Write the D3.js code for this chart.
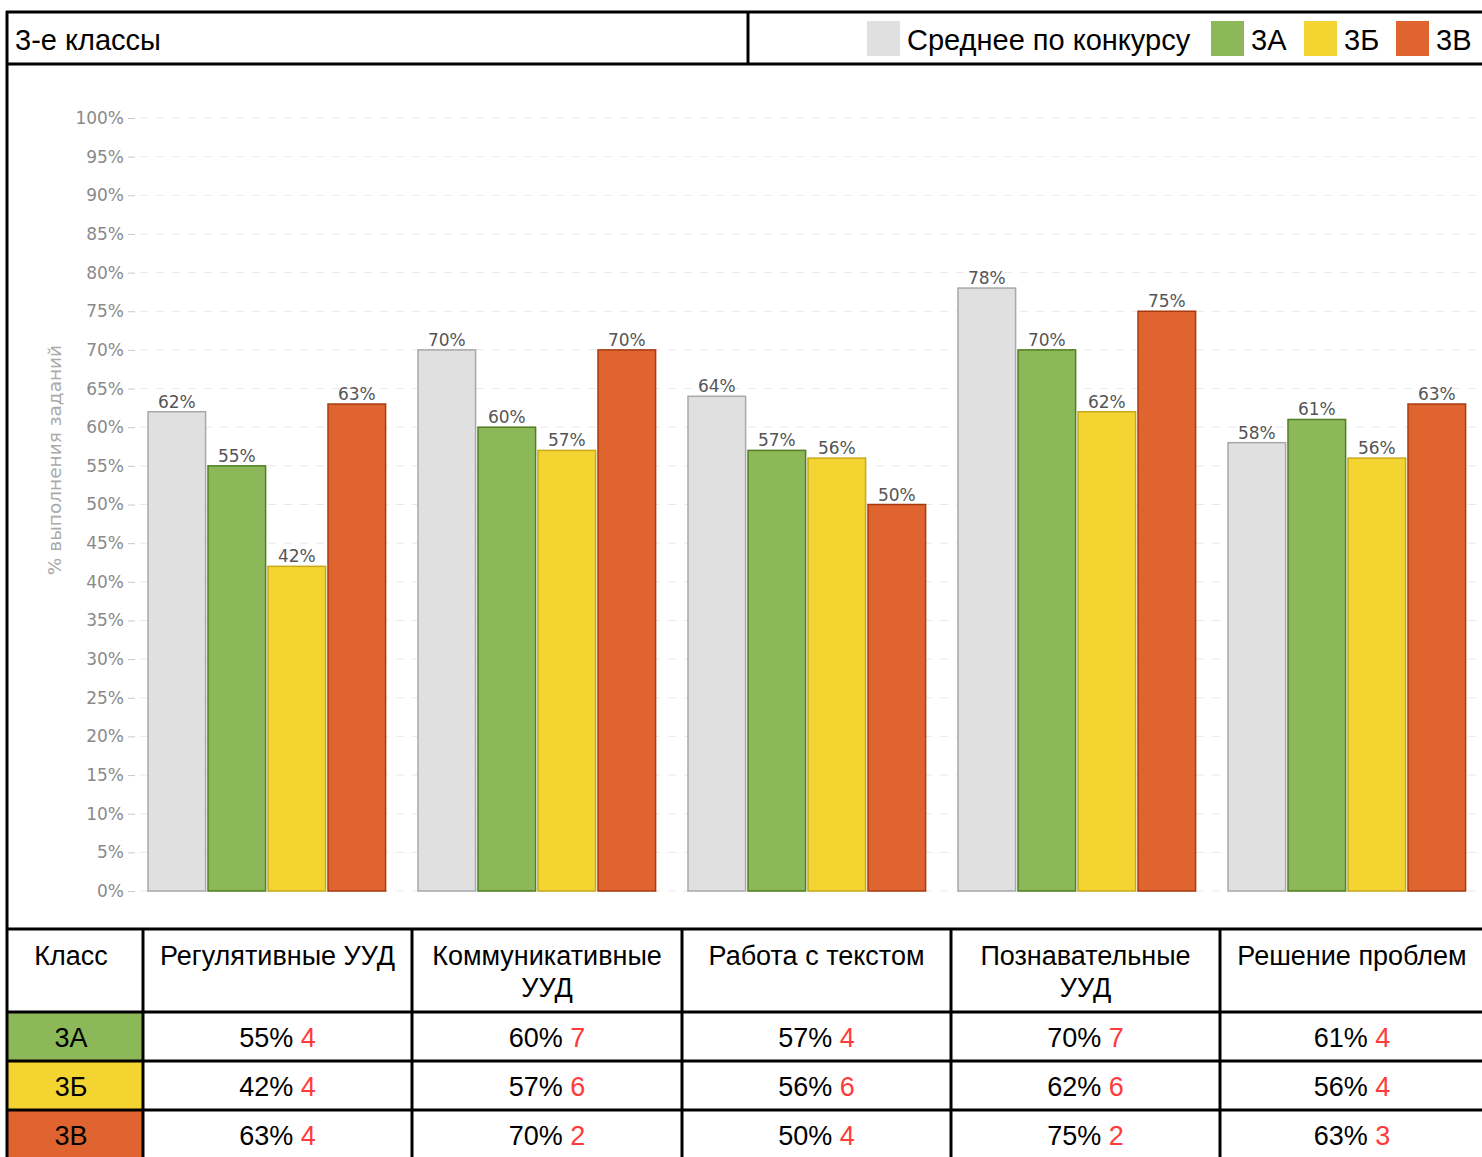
<!DOCTYPE html>
<html>
<head>
<meta charset="utf-8">
<script src="https://cdn.jsdelivr.net/npm/d3@7"></script>
<style>
  body { margin: 0; background: #fff; }
  svg { display: block; }
</style>
</head>
<body>
<svg id="chart" width="1482" height="1157"></svg>
<script>
// data
const categories = ["Регулятивные УУД", "Коммуникативные УУД", "Работа с текстом", "Познавательные УУД", "Решение проблем"];
const headerLines = [["Регулятивные УУД"], ["Коммуникативные", "УУД"], ["Работа с текстом"], ["Познавательные", "УУД"], ["Решение проблем"]];
const seriesNames = ["Среднее по конкурсу", "3А", "3Б", "3В"];
const avgValues = [62, 70, 64, 78, 58];
const aValues = [55, 60, 57, 70, 61];
const bValues = [42, 57, 56, 62, 56];
const vValues = [63, 70, 50, 75, 63];
const aPlaces = [4, 7, 4, 7, 4];
const bPlaces = [4, 6, 6, 6, 4];
const vPlaces = [4, 2, 4, 2, 3];
const yTicks = d3.range(0, 101, 5);

const fills = ["#e0e0e0", "#8db85a", "#f3d431", "#e0642f"];
const strokes = ["#a8a8a8", "#4f7f1e", "#c9a81a", "#a83a10"];

const series = [avgValues, aValues, bValues, vValues];
const svg = d3.select("#chart");
const W = 1482, H = 1157;
const chartFont = "'DejaVu Sans', sans-serif";
const tableFont = "'Liberation Sans', Arial, sans-serif";

// ---- chart ----
const y = d3.scaleLinear().domain([0, 100]).range([891, 118]);
const x0 = d3.scaleBand().domain(categories).range([131.8, 1481.8]).paddingInner(0.12).paddingOuter(0.06);
const x1 = d3.scaleBand().domain(seriesNames).range([0, x0.bandwidth()]).paddingInner(0.04);

// gridlines
svg.append("g")
  .selectAll("line")
  .data(yTicks)
  .join("line")
  .attr("x1", 140).attr("x2", W)
  .attr("y1", d => y(d)).attr("y2", d => y(d))
  .attr("stroke", "#e8e8e8")
  .attr("stroke-dasharray", "8,8");

// y axis
const yAxis = svg.append("g")
  .attr("transform", "translate(135,0)")
  .call(d3.axisLeft(y).tickValues(yTicks).tickSize(7).tickPadding(4).tickFormat(d => d + "%"));
yAxis.select(".domain").remove();
yAxis.selectAll(".tick line").attr("stroke", "#c8c8c8");
yAxis.selectAll(".tick text")
  .attr("fill", "#8a8a8a")
  .style("font-family", chartFont)
  .style("font-size", "17px");

svg.append("text")
  .attr("transform", "translate(61,460) rotate(-90)")
  .attr("text-anchor", "middle")
  .attr("fill", "#aaa")
  .style("font-family", chartFont)
  .style("font-size", "18.5px")
  .text("% выполнения заданий");

// bars
const groups = svg.append("g")
  .selectAll("g")
  .data(categories)
  .join("g")
  .attr("transform", d => "translate(" + x0(d) + ",0)");

groups.selectAll("rect")
  .data((c, i) => seriesNames.map((s, k) => ({ s: s, k: k, v: series[k][i] })))
  .join("rect")
  .attr("x", d => x1(d.s))
  .attr("y", d => y(d.v))
  .attr("width", x1.bandwidth())
  .attr("height", d => y(0) - y(d.v))
  .attr("fill", d => fills[d.k])
  .attr("stroke", d => strokes[d.k])
  .attr("stroke-width", 1.5);

groups.selectAll("text")
  .data((c, i) => seriesNames.map((s, k) => ({ s: s, k: k, v: series[k][i] })))
  .join("text")
  .attr("x", d => x1(d.s) + x1.bandwidth() / 2)
  .attr("y", d => y(d.v) - 4)
  .attr("text-anchor", "middle")
  .attr("fill", "#555")
  .style("font-family", chartFont)
  .style("font-size", "17px")
  .text(d => d.v + "%");

// ---- header ----
svg.append("text")
  .attr("x", 15).attr("y", 50)
  .style("font-family", tableFont)
  .style("font-size", "29px")
  .text("3-е классы");

const legendX = [867, 1211, 1304, 1396];
const legend = svg.append("g")
  .selectAll("g")
  .data(seriesNames)
  .join("g")
  .attr("transform", (d, i) => "translate(" + legendX[i] + ",21)");
legend.append("rect")
  .attr("width", 33).attr("height", 35)
  .attr("fill", (d, i) => fills[i]);
legend.append("text")
  .attr("x", 40).attr("y", 29)
  .style("font-family", tableFont)
  .style("font-size", "29px")
  .text(d => d);

// ---- table ----
const colX = [7, 143, 412, 682, 951, 1220, W + 2];
const rowY = [929, 1012, 1061, 1110, H + 2];
const rowNames = ["3А", "3Б", "3В"];
const rowValues = [aValues, bValues, vValues];
const rowPlaces = [aPlaces, bPlaces, vPlaces];
const colMid = i => (colX[i] + colX[i + 1]) / 2 - (i === 0 ? 4 : 0);

// class cells
svg.append("g")
  .selectAll("rect")
  .data(rowNames)
  .join("rect")
  .attr("x", colX[0]).attr("y", (d, i) => rowY[i + 1])
  .attr("width", colX[1] - colX[0]).attr("height", (d, i) => rowY[i + 2] - rowY[i + 1])
  .attr("fill", (d, i) => fills[i + 1]);

const tbl = svg.append("g").style("font-family", tableFont).style("font-size", "27px");
tbl.append("text")
  .attr("x", colMid(0)).attr("y", 965)
  .attr("text-anchor", "middle").text("Класс");
headerLines.forEach((lines, i) => {
  const t = tbl.append("text")
    .attr("x", colMid(i + 1))
    .attr("y", 965)
    .attr("text-anchor", "middle");
  lines.forEach((l, j) => t.append("tspan")
    .attr("x", colMid(i + 1))
    .attr("dy", j === 0 ? 0 : 32).text(l));
});

rowNames.forEach((r, ri) => {
  const cy = ri === 2 ? 1145 : (rowY[ri + 1] + rowY[ri + 2]) / 2 + 10;
  tbl.append("text")
    .attr("x", colMid(0)).attr("y", cy)
    .attr("text-anchor", "middle").text(r);
  categories.forEach((c, ci) => {
    const t = tbl.append("text")
      .attr("x", colMid(ci + 1))
      .attr("y", cy)
      .attr("text-anchor", "middle");
    t.append("tspan").text(rowValues[ri][ci] + "% ");
    t.append("tspan").attr("fill", "#ff3b3b").text(rowPlaces[ri][ci]);
  });
});

// ---- frame lines ----
const lines = svg.append("g").attr("stroke", "#000").attr("stroke-width", 3);
lines.append("line").attr("x1", 6).attr("x2", W).attr("y1", 12).attr("y2", 12);
lines.append("line").attr("x1", 6).attr("x2", W).attr("y1", 64).attr("y2", 64);
lines.append("line").attr("x1", 748).attr("x2", 748).attr("y1", 12).attr("y2", 64);
lines.append("line").attr("x1", 7).attr("x2", 7).attr("y1", 11).attr("y2", H);
rowY.slice(0, 4).forEach(v => lines.append("line").attr("x1", 6).attr("x2", W).attr("y1", v).attr("y2", v));
colX.slice(1, 6).forEach(v => lines.append("line").attr("x1", v).attr("x2", v).attr("y1", rowY[0]).attr("y2", H));
</script>
</body>
</html>
